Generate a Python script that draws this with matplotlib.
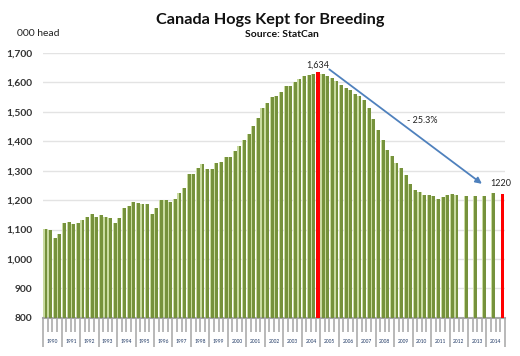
import numpy as np
import matplotlib.pyplot as plt
import matplotlib.transforms as mtransforms

# ── Data: hogs kept for breeding, Canada, '000 head (quarterly, semi-annual at end) ──
years = list(range(1990, 2015))
breeding = [
    1103, 1100, 1073, 1085,   # 1990
    1121, 1127, 1119, 1123,   # 1991
    1131, 1142, 1153, 1142,   # 1992
    1151, 1142, 1141, 1121,   # 1993
    1141, 1175, 1181, 1193,   # 1994
    1191, 1188, 1187, 1154,   # 1995
    1175, 1199, 1201, 1193,   # 1996
    1205, 1224, 1241, 1289,   # 1997
    1290, 1311, 1324, 1306,   # 1998
    1306, 1328, 1330, 1347,   # 1999
    1347, 1366, 1383, 1405,   # 2000
    1426, 1453, 1479, 1513,   # 2001
    1530, 1551, 1555, 1569,   # 2002
    1589, 1589, 1600, 1612,   # 2003
    1623, 1627, 1629, 1634,   # 2004
    1630, 1623, 1615, 1604,   # 2005
    1593, 1581, 1573, 1562,   # 2006
    1553, 1539, 1513, 1476,   # 2007
    1440, 1405, 1371, 1349,   # 2008
    1326, 1309, 1286, 1256,   # 2009
    1235, 1228, 1216, 1216,   # 2010
    1215, 1204, 1210, 1217,   # 2011
    1222, 1217, np.nan, 1213, # 2012
    np.nan, 1215, np.nan, 1215,  # 2013
    np.nan, 1224, np.nan, 1220,  # 2014
]
y_ticks = [800, 900, 1000, 1100, 1200, 1300, 1400, 1500, 1600, 1700]

vals = np.array(breeding, dtype=float)
idx = np.arange(len(vals))
valid = ~np.isnan(vals)
peak_i = int(np.nanargmax(vals))
last_i = int(idx[valid][-1])
change = (vals[last_i] - vals[peak_i]) / vals[peak_i] * 100

plt.rcParams['font.family'] = ['Lato', 'DejaVu Sans']

fig = plt.figure(figsize=(5.2, 3.56), dpi=100)
ax = fig.add_axes([0.083, 0.107, 0.888, 0.744])

# gridlines
for t in y_ticks[1:]:
    ax.axhline(t, color="#E3E3E3", linewidth=1.0, zorder=0)

# bars: light stripe + dark olive body (imitates Excel gradient)
base = y_ticks[0]
normal = valid.copy()
normal[[peak_i, last_i]] = False
ax.bar(idx[normal], vals[normal] - base, bottom=base, width=0.88,
       color="#C9DBA0", linewidth=0, zorder=2)
ax.bar(idx[normal] + 0.12, vals[normal] - base, bottom=base, width=0.62,
       color="#76923C", linewidth=0, zorder=3)
hl = [peak_i, last_i]
ax.bar(idx[hl], vals[hl] - base, bottom=base, width=0.7,
       color="#FF0000", linewidth=0, zorder=3)

ax.set_xlim(-0.5, len(vals) - 0.5)
ax.set_ylim(y_ticks[0], y_ticks[-1])
ax.set_yticks(y_ticks)
ax.set_yticklabels([f"{t:,}" for t in y_ticks], fontsize=7.4, fontweight="bold",
                   color="#333333")
ax.tick_params(axis="y", length=0, pad=8)

# x axis: quarter separators (minor) and year separators (major)
ax.set_xticks([i * 4 - 0.5 for i in range(len(years) + 1)])
ax.set_xticklabels([])
ax.set_xticks(np.arange(len(vals) + 1) - 0.5, minor=True)
ax.tick_params(axis="x", which="major", length=21, width=1.1, color="#A6A6A6")
ax.tick_params(axis="x", which="minor", length=10, width=1.1, color="#A6A6A6")

trans = mtransforms.blended_transform_factory(ax.transData, ax.transAxes)
for k, yr in enumerate(years):
    ax.text(k * 4 + 1.5, -0.09, str(yr), transform=trans, ha="center",
            va="center", fontsize=3.5, color="#1F3864")

for s in ["top", "right", "left"]:
    ax.spines[s].set_visible(False)
ax.spines["bottom"].set_color("#A6A6A6")
ax.spines["bottom"].set_linewidth(1.5)

# annotations
ax.text(peak_i, vals[peak_i] + 8, f"{vals[peak_i]:,.0f}", ha="center",
        va="bottom", fontsize=6.5, color="#222222")
ax.text(last_i - 0.5, vals[last_i] + 22, f"{vals[last_i]:.0f}", ha="center",
        va="bottom", fontsize=6.5, color="#222222")
ax.annotate("", xy=(last_i - 4, vals[last_i] + 30),
            xytext=(peak_i + 2, vals[peak_i] + 16),
            arrowprops=dict(arrowstyle="-|>", color="#4F81BD", lw=1.3,
                            mutation_scale=9))
ax.text((peak_i + last_i) / 2 + 2.5, 1472, f"- {abs(change):.1f}%",
        ha="center", va="center", fontsize=6.5, color="#222222")

fig.text(0.52, 0.945, "Canada Hogs Kept for Breeding", ha="center",
         va="center", fontsize=11.7, fontweight="bold", color="#111111")
fig.text(0.542, 0.903, "Source: StatCan", ha="center", va="center",
         fontsize=7.5, fontweight="bold", color="#111111")
fig.text(0.033, 0.905, "000 head", ha="left", va="center", fontsize=7.5,
         color="#222222")

fig.savefig("out.png", dpi=100)
